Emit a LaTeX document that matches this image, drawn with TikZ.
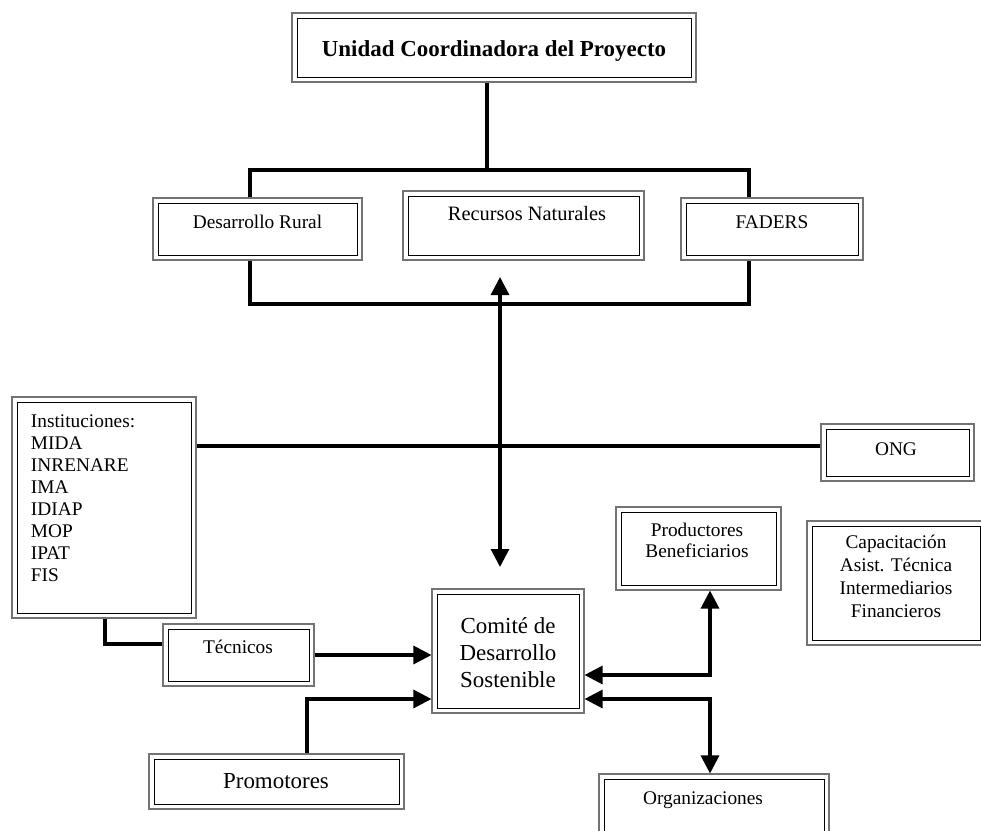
\documentclass[tikz,border=0pt]{standalone}
\usepackage{fontspec}
\setmainfont{Liberation Serif}
\usetikzlibrary{arrows.meta}

\newcommand\regtext{\fontsize{14.5}{16.5}\selectfont}
\newcommand\bigtext{\fontsize{17.2}{20.25}\selectfont}

\begin{document}
\begin{tikzpicture}[x=0.75pt,y=-0.75pt,
  dbox/.style 2 args={draw=black!55, line width=0.8pt, rectangle, inner sep=0pt,
    minimum width=#1*0.75pt, minimum height=#2*0.75pt,
    path picture={\draw[black, line width=0.7pt]
      ([shift={(3.75pt,-3.75pt)}]path picture bounding box.north west) rectangle
      ([shift={(-3.75pt,3.75pt)}]path picture bounding box.south east);}},
  lbl/.style={inner sep=0pt, font=\regtext},
  conn/.style={line width=2.3pt, line cap=butt},
  tip/.style={-{Triangle[length=13.5pt,width=13.5pt]}},
  tips/.style={{Triangle[length=13.5pt,width=13.5pt]}-{Triangle[length=13.5pt,width=13.5pt]}}
]
\useasboundingbox (0,0) rectangle (981,831);
\clip (0,0) rectangle (981,831);

% boxes
\node[dbox={404}{69}]  (title) at (494,47.5) {};
\node[dbox={209}{62}]  (dr)    at (257.5,229) {};
\node[dbox={241}{69}]  (rn)    at (523.5,225.5) {};
\node[dbox={182}{62}]  (fa)    at (772,229) {};
\node[dbox={184}{221}] (inst)  at (104,507.5) {};
\node[dbox={153}{57}]  (ong)   at (897.5,452.5) {};
\node[dbox={165}{83}]  (pb)    at (698.5,548.5) {};
\node[dbox={178}{124}] (cap)   at (896,583) {};
\node[dbox={151}{62}]  (tec)   at (238.5,655) {};
\node[dbox={152}{124}] (cm)    at (508,651) {};
\node[dbox={255}{55}]  (pr)    at (276.5,781.5) {};
\node[dbox={230}{66}]  (org)   at (714,807) {};

% labels
\node[lbl, anchor=base, font=\bigtext\bfseries] (title-t) at (494,56.7) {Unidad Coordinadora del Proyecto};
\node[lbl, anchor=base] (dr-t) at (257.5,228) {Desarrollo Rural};
\node[lbl, anchor=base, font=\fontsize{15.3}{17}\selectfont] (rn-t) at (527,220) {Recursos Naturales};
\node[lbl, anchor=base] (fa-t) at (772,228) {FADERS};
\node[lbl, anchor=base west] (inst-t) at (30.7,427)
  {\begin{tabular}[t]{@{}l@{}}Instituciones:\\MIDA\\INRENARE\\IMA\\IDIAP\\MOP\\IPAT\\FIS\end{tabular}};
\node[lbl, anchor=base] (ong-t) at (896,455) {ONG};
\node[lbl, anchor=base, font=\fontsize{14.5}{15.75}\selectfont] (pb-t) at (697,536)
  {\begin{tabular}[t]{@{}c@{}}Productores\\Beneficiarios\end{tabular}};
\node[lbl, anchor=base, font=\fontsize{14.5}{17.25}\selectfont] (cap-t) at (896,548)
  {\begin{tabular}[t]{@{}c@{}}Capacitación\\Asist. Técnica\\Intermediarios\\Financieros\end{tabular}};
\node[lbl, anchor=base] (tec-t) at (238,653) {Técnicos};
\node[lbl, anchor=base, font=\bigtext] (cm-t) at (508,633)
  {\begin{tabular}[t]{@{}c@{}}Comité de\\Desarrollo\\Sostenible\end{tabular}};
\node[lbl, anchor=base, font=\bigtext] (pr-t) at (276,788) {Promotores};
\node[lbl, anchor=base] (org-t) at (703,804) {Organizaciones};

% junction points
\coordinate (top) at (487,170);
\coordinate (bl)  at (250,170);
\coordinate (br)  at (749,170);
\coordinate (bb)  at (749,304);
\coordinate (up)  at (500,277);
\coordinate (dn)  at (500,567);
\coordinate (ongy) at (0,446);
\coordinate (tk)  at (105,644);
\coordinate (pm)  at (307,699);
\coordinate (rk)  at (710,675);
\coordinate (ok)  at (710,699);

% connectors
\draw[conn] (title.south -| top) -- (top);
\draw[conn] (dr.north -| bl) |- (br) -- (fa.north -| br);
\draw[conn] (dr.south -| bl) |- (bb) -- (fa.south -| bb);
\draw[conn, tips] (up) -- (dn);
\draw[conn] (inst.east |- ongy) -- (ong.west |- ongy);
\draw[conn] (inst.south -| tk) |- (tec.west |- tk);
\draw[conn, tip] (tec.east) -- (cm.west |- tec.east);
\draw[conn, tip] (pr.north -| pm) |- (cm.west |- pm);
\draw[conn, tips] (cm.east |- rk) -| (pb.south -| rk);
\draw[conn, tips] (cm.east |- ok) -| (org.north -| ok);
\end{tikzpicture}
\end{document}
